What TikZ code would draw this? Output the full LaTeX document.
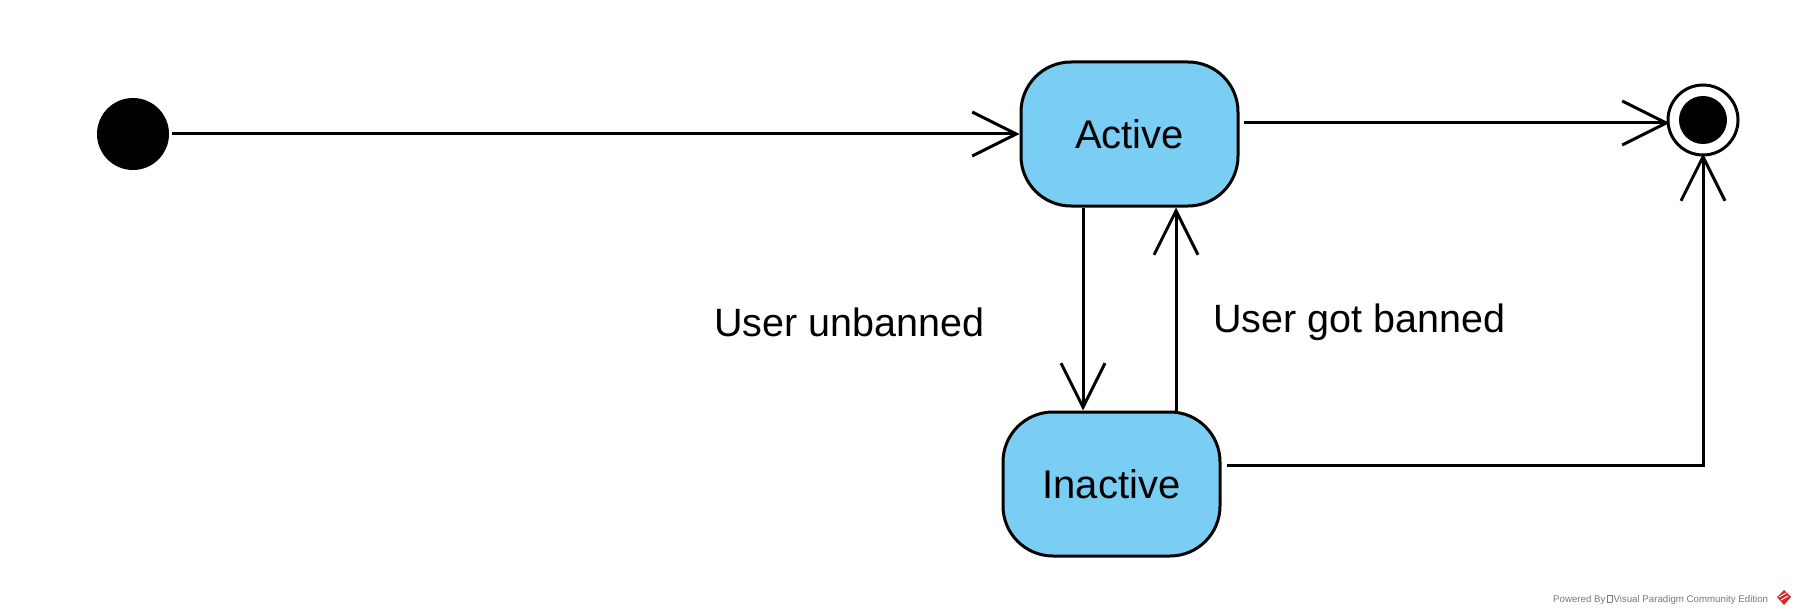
\documentclass[tikz,border=0pt]{standalone}
\usepackage{fontspec}
\setmainfont{Liberation Sans}
\usetikzlibrary{arrows.meta}
\definecolor{statefill}{RGB}{122,206,244}
\definecolor{vpgray}{RGB}{120,120,120}
\definecolor{vpred}{RGB}{214,40,40}
\begin{document}
\begin{tikzpicture}[x=1pt,y=-1pt,
  statebox/.style={draw=black, line width=3pt, fill=statefill, rounded corners=50pt,
    minimum width=217pt, minimum height=144pt, inner sep=0pt,
    font=\fontsize{40}{46}\selectfont},
  conn/.style={line width=3pt},
  openarrow/.style={-{Straight Barb[length=44pt,width=44pt,line width=3pt]}},
  lbl/.style={inner sep=0pt, font=\fontsize{39.5}{46}\selectfont}]
\useasboundingbox (0,0) rectangle (1797,615);
\node[circle, fill=black, minimum size=72pt, inner sep=0pt] (init) at (133,134) {};
\node[statebox] (active) at (1129.5,134) {Active};
\node[statebox] (inactive) at (1111.5,484) {Inactive};
\node[circle, draw=black, line width=3pt, fill=white, minimum size=70pt, inner sep=0pt] (final) at (1703,120) {};
\node[circle, fill=black, minimum size=48pt, inner sep=0pt] (finalin) at (final.center) {};
\coordinate (xdown) at (1083,0);
\coordinate (xup) at (1176,0);
\coordinate (corner) at (1703,465);
\coordinate (finin) at ([yshift=-3pt]final.west);
% connectors
\draw[conn, openarrow] ([xshift=3pt]init.east) -- (active.west);
\draw[conn, openarrow, shorten >=-3pt] ([xshift=4pt]active.east |- finin) -- (finin);
\draw[conn, openarrow] (active.south -| xdown) -- (inactive.north -| xdown);
\draw[conn, openarrow] (inactive.north -| xup) -- (active.south -| xup);
\draw[conn, openarrow, shorten >=-3pt] ([xshift=5pt]inactive.east |- corner) -- (corner) -- (final.south);
% labels
\node[lbl, anchor=base west] (lunban) at (714,336) {User unbanned};
\node[lbl, anchor=base west] (lban) at (1213,332) {User got banned};
% footer
\setlength{\fboxsep}{0pt}\setlength{\fboxrule}{0.4pt}
\node[anchor=base west, inner sep=0pt, text=vpgray, font=\fontsize{9.7}{11}\selectfont] (footer) at (1553,602)
  {Powered By\,\fbox{\rule{0pt}{6.5pt}\hspace{4pt}}\,Visual Paradigm Community Edition};
\fill[vpred] (1784,590) -- (1791,597) -- (1784,605) -- (1777,597) -- cycle;
\draw[white, line width=1pt] (1779,597) -- (1786,593);
\draw[white, line width=1pt] (1781,600) -- (1788,596);
\end{tikzpicture}
\end{document}
